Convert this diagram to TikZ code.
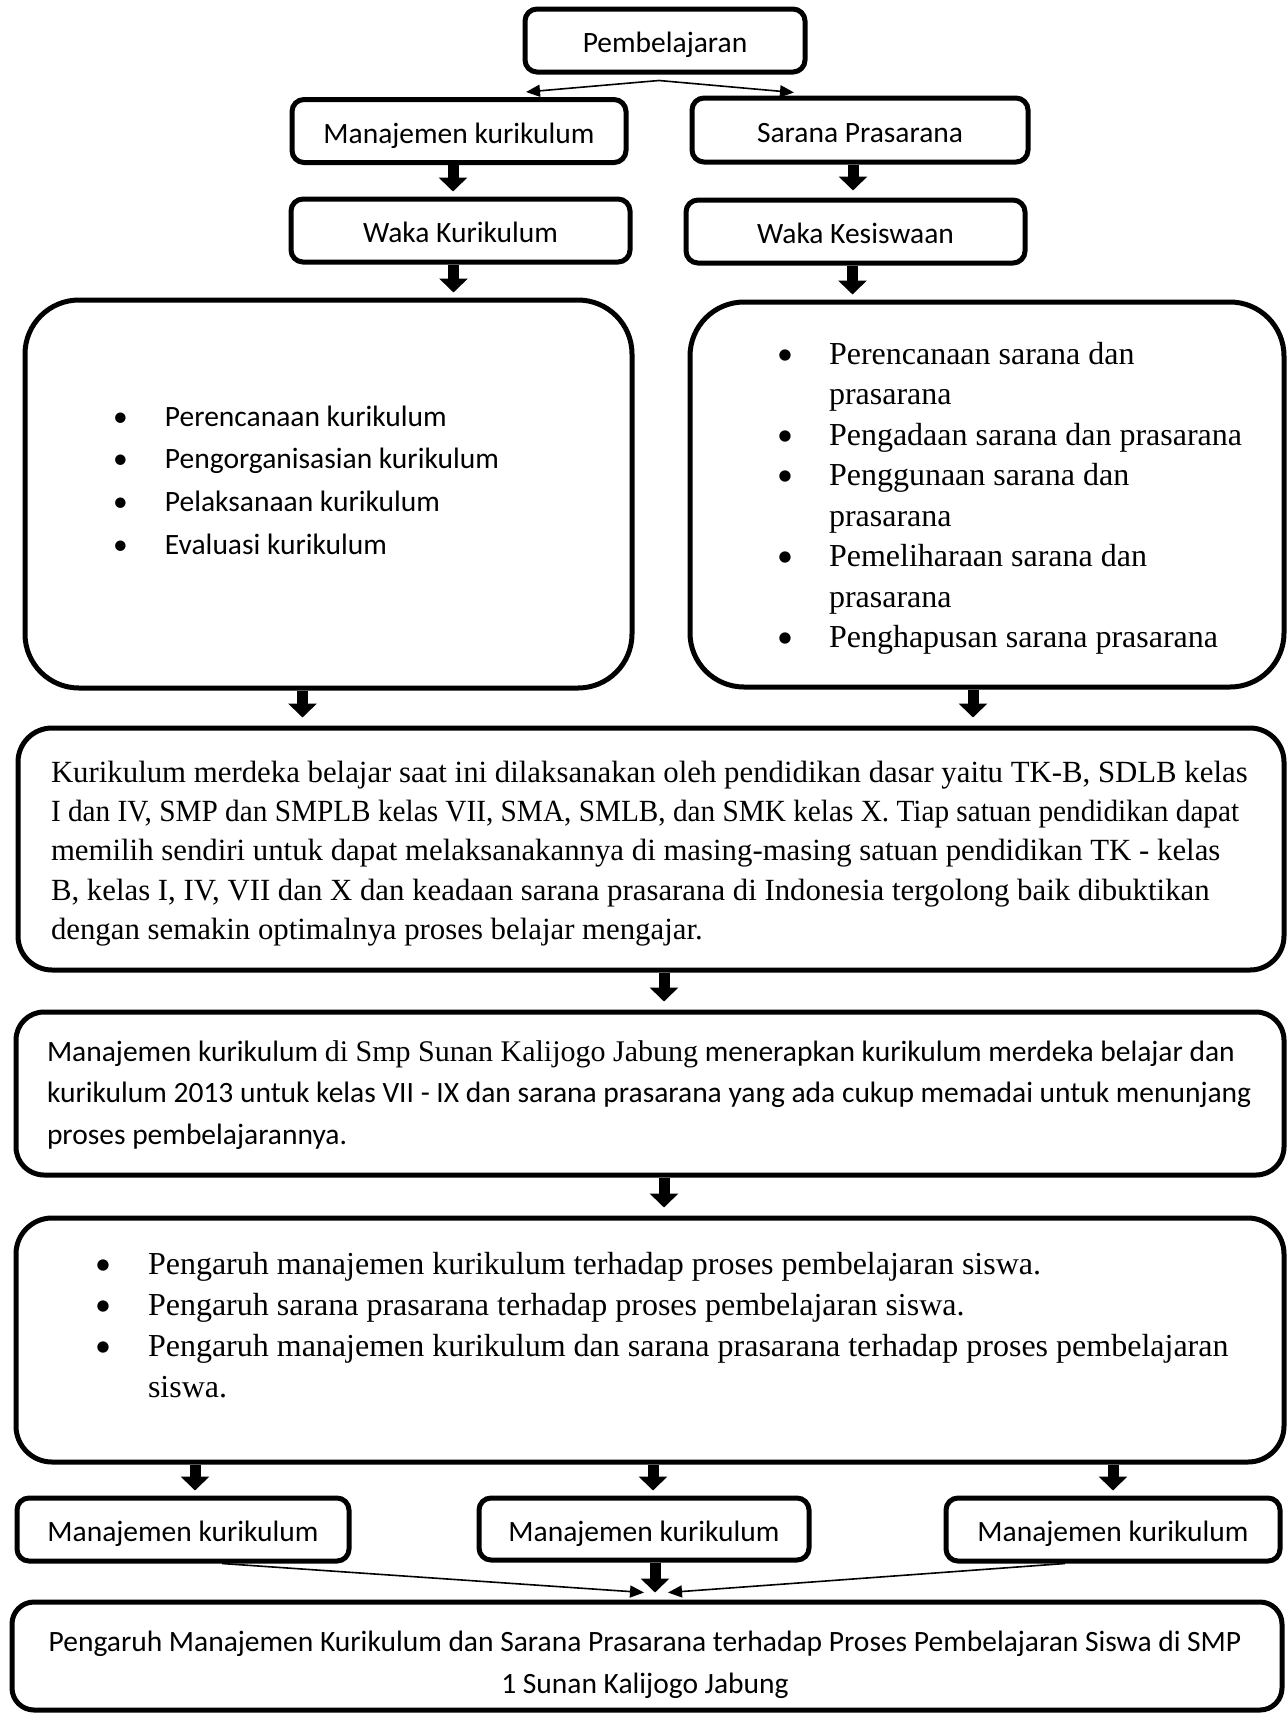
\documentclass[tikz,border=0pt]{standalone}
\usepackage{fontspec}
\setmainfont{Carlito}
\newfontfamily\serf{Liberation Serif}
\newfontfamily\sanf{Carlito}
\usetikzlibrary{arrows.meta,calc}
\newcommand\mybul[1]{\makebox[#1][l]{\textbullet}}
\newcommand\mysbul[1]{\makebox[#1][l]{\sanf\textbullet}}
\begin{document}
\begin{tikzpicture}[x=0.5pt,y=-0.5pt,
  box/.style={draw, line width=2.5pt, rounded corners=6pt, inner sep=0pt, text height=13pt, text depth=1pt, font=\fontsize{14.75}{17}\selectfont},
  bigbox/.style={draw, line width=2.5pt, rounded corners=27pt, inner sep=0pt},
  txt/.style={inner sep=0pt, outer sep=0pt, align=left, anchor=north west},
  barrow/.style={line width=5.5pt, -{Triangle[length=7pt,width=14pt]}},
  tarrow/.style={line width=0.8pt, -{Triangle[length=7pt,width=6pt]}}
]
\useasboundingbox (0,0) rectangle (1288,1714);

% top row
\node[box, minimum width=140pt, minimum height=31.5pt] (pemb) at (665,40.5) {Pembelajaran};
\node[box, minimum width=167pt, minimum height=31.5pt] (mk1) at (459,131) {Manajemen kurikulum};
\node[box, minimum width=168pt, minimum height=32pt] (sp) at (860,130) {Sarana Prasarana};
\node[box, minimum width=169.5pt, minimum height=31.5pt] (wk) at (460.5,230.5) {Waka Kurikulum};
\node[box, minimum width=169.5pt, minimum height=31.5pt] (wks) at (855.5,231.5) {Waka Kesiswaan};

% big boxes
\node[bigbox, minimum width=303.5pt, minimum height=194pt] (lbig) at (328.5,494) {};
\node[bigbox, minimum width=297pt, minimum height=192.5pt] (rbig) at (987,494.5) {};

\node[txt, font=\fontsize{14.75}{21.35}\selectfont] (ltxt) at (113,404) {\rule{0pt}{11pt}\mybul{26pt}Perencanaan kurikulum\\
\mybul{26pt}Pengorganisasian kurikulum\\
\mybul{26pt}Pelaksanaan kurikulum\\
\mybul{26pt}Evaluasi kurikulum};

\node[txt, font=\serf\fontsize{16}{20.25}\selectfont] (rtxt) at (777,340) {\rule{0pt}{12pt}\mysbul{26pt}Perencanaan sarana dan\\
\hspace*{26pt}prasarana\\
\mysbul{26pt}Pengadaan sarana dan prasarana\\
\mysbul{26pt}Penggunaan sarana dan\\
\hspace*{26pt}prasarana\\
\mysbul{26pt}Pemeliharaan sarana dan\\
\hspace*{26pt}prasarana\\
\mysbul{26pt}Penghapusan sarana prasarana};

% merdeka box
\node[draw, line width=2.5pt, rounded corners=17pt, inner sep=0pt, minimum width=633pt, minimum height=121pt] (merd) at (651,849) {};
\node[txt, font=\serf\fontsize{15.4}{19.7}\selectfont] (mtxt) at (51,758) {\rule{0pt}{12pt}Kurikulum merdeka belajar saat ini dilaksanakan oleh pendidikan dasar yaitu TK-B, SDLB kelas\\
\scalebox{0.95}[1]{I dan IV, SMP dan SMPLB kelas VII, SMA, SMLB, dan SMK kelas X. Tiap satuan pendidikan dapat}\\
memilih sendiri untuk dapat melaksanakannya di masing-masing satuan pendidikan TK - kelas\\
B, kelas I, IV, VII dan X dan keadaan sarana prasarana di Indonesia tergolong baik dibuktikan\\
dengan semakin optimalnya proses belajar mengajar.};

% smp box
\node[draw, line width=2.5pt, rounded corners=14pt, inner sep=0pt, minimum width=634pt, minimum height=81.5pt] (smp) at (650,1093.5) {};
\node[txt, font=\fontsize{14.75}{20.75}\selectfont] (stxt) at (47,1039) {\rule{0pt}{11pt}Manajemen kurikulum {\serf\fontsize{15}{20.75}\selectfont di Smp Sunan Kalijogo Jabung} menerapkan kurikulum merdeka belajar dan\\
kurikulum 2013 untuk kelas VII - IX dan sarana prasarana yang ada cukup memadai untuk menunjang\\
proses pembelajarannya.};

% pengaruh box
\node[draw, line width=2.5pt, rounded corners=18pt, inner sep=0pt, minimum width=634pt, minimum height=122pt] (peng) at (650,1340) {};
\node[txt, font=\serf\fontsize{16}{20.5}\selectfont] (ptxt) at (95,1250) {\rule{0pt}{12pt}\mysbul{26.5pt}Pengaruh manajemen kurikulum terhadap proses pembelajaran siswa.\\
\mysbul{26.5pt}Pengaruh sarana prasarana terhadap proses pembelajaran siswa.\\
\mysbul{26.5pt}Pengaruh manajemen kurikulum dan sarana prasarana terhadap proses pembelajaran\\
\hspace*{26.5pt}siswa.};

% bottom row
\node[box, minimum width=166pt, minimum height=31.5pt] (b1) at (183,1529.5) {Manajemen kurikulum};
\node[box, minimum width=165pt, minimum height=31pt] (b2) at (644,1529) {Manajemen kurikulum};
\node[box, minimum width=167pt, minimum height=31.5pt] (b3) at (1113,1529.5) {Manajemen kurikulum};

\node[draw, line width=2.5pt, rounded corners=11pt, inner sep=0pt, minimum width=635pt, minimum height=54pt] (fin) at (647,1656) {};
\node[inner sep=0pt, align=center, anchor=north, font=\fontsize{14.75}{21}\selectfont] (ftxt) at (645,1629) {\rule{0pt}{11pt}Pengaruh Manajemen Kurikulum dan Sarana Prasarana terhadap Proses Pembelajaran Siswa di SMP\\
1 Sunan Kalijogo Jabung};

% thin arrows top
\draw[tarrow] ([xshift=-3pt,yshift=-3pt]pemb.south) -- ([xshift=33.5pt,yshift=2.5pt]mk1.north);
\draw[tarrow] ([xshift=-3pt,yshift=-3pt]pemb.south) -- ([xshift=-33pt,yshift=1.5pt]sp.north);

% block arrows
\draw[barrow] ([xshift=-3pt]mk1.south) -- ([xshift=-3pt,yshift=2.5pt]mk1.south |- wk.north);
\draw[barrow] ([xshift=-3.5pt]sp.south) -- ([xshift=-3.5pt,yshift=3.5pt]sp.south |- wks.north);
\draw[barrow] ([xshift=-3.5pt]wk.south) -- ([xshift=-3.5pt,yshift=2.5pt]wk.south |- lbig.north);
\draw[barrow] ([xshift=-1.5pt]wks.south) -- ([xshift=-1.5pt,yshift=2.5pt]wks.south |- rbig.north);
\draw[barrow] ([xshift=-13pt]lbig.south) -- ([xshift=-13pt,yshift=4pt]lbig.south |- merd.north);
\draw[barrow] ([xshift=-7pt]rbig.south) -- ([xshift=-7pt,yshift=4pt]rbig.south |- merd.north);
\draw[barrow] ([xshift=6.5pt]merd.south) -- ([xshift=6.5pt,yshift=4pt]merd.south |- smp.north);
\draw[barrow] ([xshift=7pt]smp.south) -- ([xshift=7pt,yshift=4pt]smp.south |- peng.north);
\draw[barrow] ([xshift=6pt]b1.north |- peng.south) -- ([xshift=6pt,yshift=2.5pt]b1.north);
\draw[barrow] ([xshift=4.5pt]b2.north |- peng.south) -- ([xshift=4.5pt,yshift=2.5pt]b2.north);
\draw[barrow] (b3.north |- peng.south) -- ([yshift=2.5pt]b3.north);
\draw[barrow] ([xshift=5.5pt]b2.south) -- ([xshift=5.5pt,yshift=3.5pt]b2.south |- fin.north);

% thin arrows bottom
\draw[tarrow] ([xshift=19.5pt]b1.south) -- ([xshift=-1.5pt,yshift=3.5pt]fin.north);
\draw[tarrow] ([xshift=-24pt]b3.south) -- ([xshift=10.5pt,yshift=3.5pt]fin.north);
\end{tikzpicture}
\end{document}
